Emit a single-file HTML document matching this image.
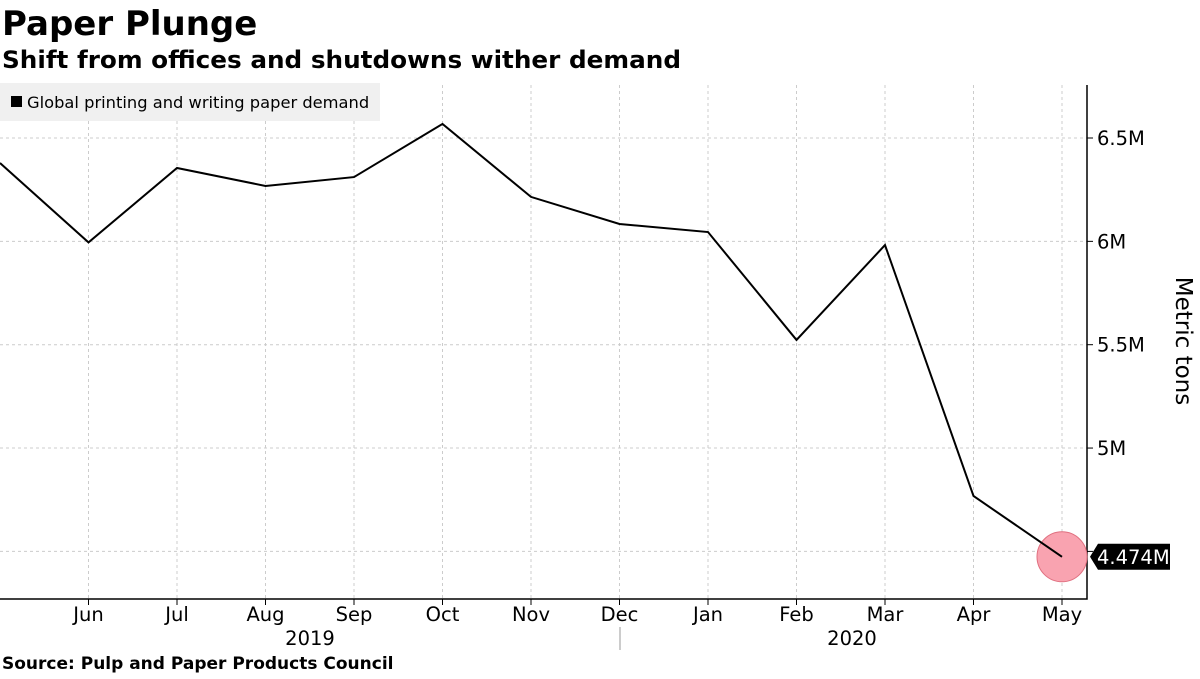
<!DOCTYPE html>
<html><head><meta charset="utf-8"><style>
body{margin:0;background:#fff;width:1200px;height:675px;overflow:hidden;font-family:"DejaVu Sans","Liberation Sans",sans-serif}
</style></head><body>
<svg id="chart" width="1200" height="675" xmlns="http://www.w3.org/2000/svg">
<text x="2" y="35" font-size="34" font-weight="bold" fill="#000">Paper Plunge</text>
<text x="2" y="68" font-size="24" font-weight="bold" fill="#000" textLength="679" lengthAdjust="spacingAndGlyphs">Shift from offices and shutdowns wither demand</text>
<g id="grid"></g>
<rect x="0" y="83" width="380" height="38" fill="#f0f0f0"/>
<rect x="11" y="96" width="11" height="11" fill="#000"/>
<text x="27" y="108" font-size="16.3" fill="#000">Global printing and writing paper demand</text>
<g id="axes"></g>
<g id="series"></g>
<text transform="translate(1176,341) rotate(90)" text-anchor="middle" font-size="23" fill="#000">Metric tons</text>
<text x="2" y="669" font-size="17" font-weight="bold" fill="#000">Source: Pulp and Paper Products Council</text>
</svg>
<script>
const months=["May","Jun","Jul","Aug","Sep","Oct","Nov","Dec","Jan","Feb","Mar","Apr","May"];
const values=[6.379,5.995,6.355,6.268,6.311,6.568,6.215,6.084,6.045,5.523,5.982,4.768,4.474];
const yTicks=[4.5,5,5.5,6,6.5];
const yTickLabels=["","5M","5.5M","6M","6.5M"];
const years=["2019","2020"];
const lastLabel="4.474M";
const NS="http://www.w3.org/2000/svg";
const x0=0,dx=88.5,plotRight=1087,plotTop=85,plotBottom=599;
function X(i){return x0+i*dx;}
function Y(v){return 138+(6.5-v)*206.7;}
function mk(tag,attrs,parent){const e=document.createElementNS(NS,tag);for(const k in attrs)e.setAttribute(k,attrs[k]);parent.appendChild(e);return e;}
const grid=document.getElementById('grid'),axes=document.getElementById('axes'),series=document.getElementById('series');
yTicks.forEach((t,i)=>{
 const l=mk('line',{x1:0,x2:plotRight,y1:Y(t),y2:Y(t),stroke:'#ccc','stroke-dasharray':'3,3'},grid);
 
 
 const tk=mk('line',{x1:plotRight,x2:plotRight+6,y1:Y(t),y2:Y(t),stroke:'#000'},axes);
 
 
 if(yTickLabels[i]){const tx=mk('text',{x:plotRight+10,y:Y(t)+7,'font-size':19.5,fill:'#000'},axes);tx.textContent=yTickLabels[i];
 
 }
});
months.forEach((m,i)=>{
 if(i===0)return;
 const l=mk('line',{x1:X(i),x2:X(i),y1:plotTop,y2:plotBottom,stroke:'#ccc','stroke-dasharray':'3,3'},grid);
 
 
 const tk=mk('line',{x1:X(i),x2:X(i),y1:plotBottom,y2:plotBottom+6,stroke:'#000'},axes);
 
 
 const tx=mk('text',{x:X(i),y:621,'font-size':19.5,fill:'#000','text-anchor':'middle'},axes);tx.textContent=m;
 
 
});
[[310,years[0]],[852,years[1]]].forEach(([x,t])=>{const tx=mk('text',{x:x,y:645,'font-size':19.5,fill:'#000','text-anchor':'middle'},axes);tx.textContent=t;
 
 });
const sep=mk('line',{x1:620,x2:620,y1:627,y2:650,stroke:'#999'},axes);


const ax=mk('path',{d:`M0 ${plotBottom} H${plotRight} V${plotTop}`,fill:'none',stroke:'#000','stroke-width':1.5},axes);


const n=values.length-1;
const c=mk('circle',{cx:X(n),cy:Y(values[n]),r:25,fill:'#f9a3b0',stroke:'#e07080'},series);


const line=mk('polyline',{points:values.map((v,i)=>X(i)+','+Y(v)).join(' '),fill:'none',stroke:'#000','stroke-width':2},series);


const ly=Y(values[n]);
const lb=mk('path',{d:`M${plotRight+3} ${ly} L${plotRight+11} ${ly-13} H1170 V${ly+13} H${plotRight+11} Z`,fill:'#000'},series);


const lt=mk('text',{x:plotRight+10,y:ly+7,'font-size':19.5,fill:'#fff'},series);lt.textContent=lastLabel;


</script>
</body></html>
